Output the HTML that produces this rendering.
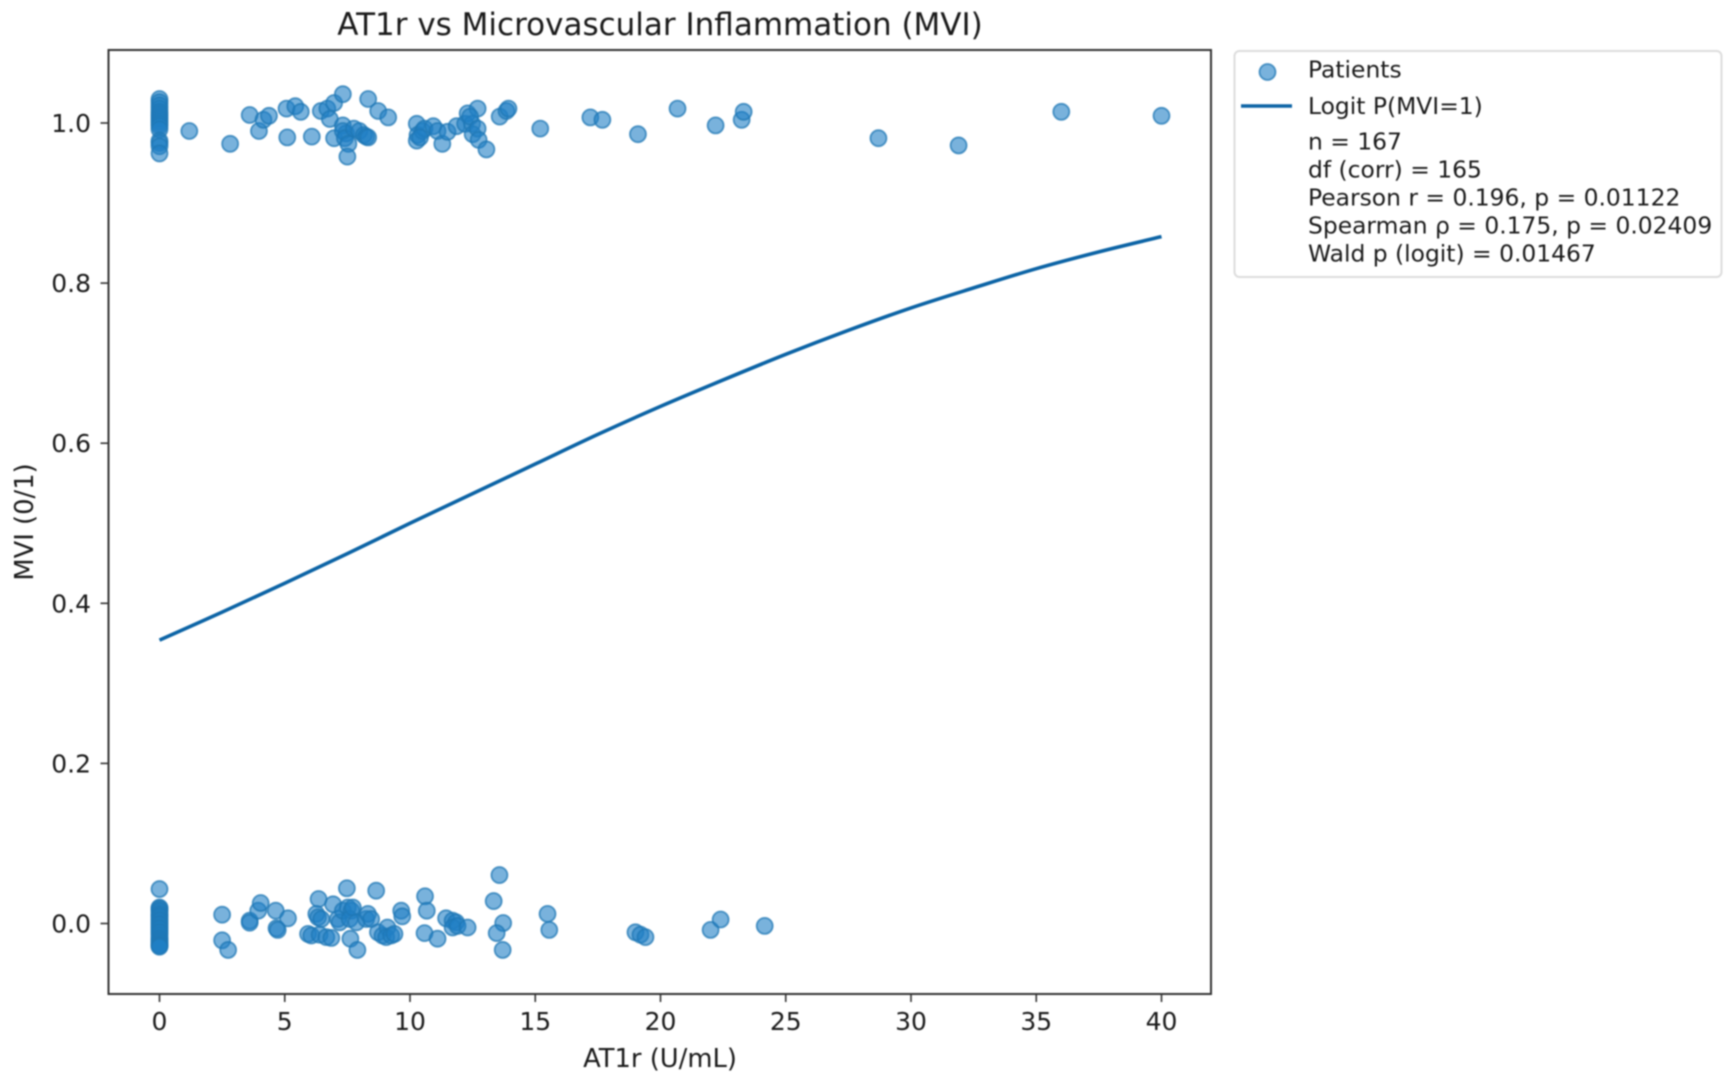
<!DOCTYPE html>
<html lang="en">
<head>
<meta charset="utf-8">
<title>AT1r vs Microvascular Inflammation (MVI)</title>
<style>
html,body{margin:0;padding:0;background:#fff;width:1732px;height:1078px;overflow:hidden}
svg{display:block;filter:blur(0.8px)}
text{font-family:"DejaVu Sans","Liberation Sans",sans-serif;fill:#1a1a1a}
</style>
</head>
<body>
<svg id="chart" xmlns="http://www.w3.org/2000/svg" width="1732" height="1078" viewBox="0 0 1732 1078">
  <rect x="0" y="0" width="1732" height="1078" fill="#fff"/>
  <text x="660" y="35" text-anchor="middle" font-size="31">AT1r vs Microvascular Inflammation (MVI)</text>
  <g id="marks"></g>
  <rect x="108.5" y="50" width="1102.5" height="944" fill="none" stroke="#333" stroke-width="2"/>
  <g id="ticks"></g>
  <text x="660" y="1067" text-anchor="middle" font-size="25.8">AT1r (U/mL)</text>
  <text transform="translate(33,522) rotate(-90)" text-anchor="middle" font-size="25.8">MVI (0/1)</text>
  <g>
    <rect x="1234.5" y="51" width="487" height="226" rx="5" fill="#fff" stroke="#dcdcdc" stroke-width="2"/>
    <circle cx="1267.5" cy="72" r="8" fill="#1f7ec4" fill-opacity="0.6" stroke="#1f77b4" stroke-opacity="0.75" stroke-width="1.8"/>
    <text x="1308" y="77.5" font-size="23.4">Patients</text>
    <line x1="1241" y1="106" x2="1292" y2="106" stroke="#0b63a5" stroke-width="3.6"/>
    <text x="1308" y="114" font-size="23.4">Logit P(MVI=1)</text>
    <text x="1308" y="149.5" font-size="23.4">n = 167</text>
    <text x="1308" y="177.5" font-size="23.4">df (corr) = 165</text>
    <text x="1308" y="205.5" font-size="23.4">Pearson r = 0.196, p = 0.01122</text>
    <text x="1308" y="233.5" font-size="23.4">Spearman ρ = 0.175, p = 0.02409</text>
    <text x="1308" y="261.5" font-size="23.4">Wald p (logit) = 0.01467</text>
  </g>
</svg>
<script>
const xTicks = [0, 5, 10, 15, 20, 25, 30, 35, 40];
const yTicks = [0.0, 0.2, 0.4, 0.6, 0.8, 1.0];

const positiveAt1r = [0,0,0,0,0,0,0,0,0,0,0,0,0,0,0,0,
  1.19,2.82,3.6,3.97,4.15,4.37,5.1,5.07,5.42,5.64,6.08,6.44,6.7,6.8,6.97,6.97,
  7.32,7.32,7.45,7.32,7.4,7.54,7.5,7.76,7.98,8.16,8.25,8.33,8.33,8.73,9.13,
  10.27,10.3,10.27,10.5,10.58,10.4,10.93,11.1,11.29,11.5,11.86,12.2,12.3,12.48,12.7,12.4,
  12.5,12.7,12.74,13.05,13.58,13.85,13.93,15.2,17.2,17.68,19.1,20.68,22.2,23.24,23.32,
  28.7,31.9,36,40];
const positiveMvi = [1.03,1.026,1.022,1.018,1.014,1.011,1.008,1.005,1.002,0.999,0.996,0.992,0.978,0.975,0.971,0.962,
  0.99,0.974,1.01,0.99,1.004,1.009,0.982,1.018,1.021,1.014,0.983,1.015,1.018,1.005,1.025,0.981,
  1.036,0.997,0.987,0.99,0.981,0.974,0.958,0.993,0.99,0.985,0.983,0.982,1.03,1.015,1.007,
  0.999,0.985,0.978,0.99,0.993,0.982,0.996,0.99,0.974,0.989,0.996,0.999,1.012,0.999,1.018,1.008,
  0.986,0.993,0.979,0.967,1.008,1.015,1.018,0.993,1.007,1.004,0.986,1.018,0.997,1.004,1.014,
  0.981,0.972,1.014,1.009];

const negativeAt1r = [0,0,0,0,0,0,0,0,0,0,0,0,0,0,0,0,0,0,0,0,0,0,0,0,0,
  2.5,2.5,2.74,3.6,3.6,3.94,4.04,4.64,4.67,4.72,5.13,5.93,6.06,6.35,6.26,6.33,6.46,6.39,6.66,6.86,6.93,
  7.12,7.19,7.32,7.48,7.52,7.66,7.59,7.72,7.62,7.9,7.86,8.25,8.32,8.45,8.65,8.72,8.9,9.1,9.05,9.25,9.38,9.65,9.69,
  10.6,10.67,10.58,11.1,11.44,11.7,11.84,11.7,11.9,12.3,13.57,13.34,13.72,13.46,13.7,15.49,15.56,
  19.0,19.2,19.4,22.0,22.4,24.16];
const negativeMvi = [0.043,0.02,0.019,0.017,0.015,0.012,0.01,0.008,0.005,0.003,0,-0.002,-0.005,-0.007,-0.01,-0.012,-0.015,-0.018,-0.02,-0.022,-0.024,-0.026,-0.027,-0.028,-0.029,
  0.011,-0.021,-0.033,0.0035,0.001,0.016,0.0256,0.016,-0.006,-0.008,0.0065,-0.013,-0.015,0.0306,0.012,0.0077,0.0056,-0.014,-0.017,-0.018,0.024,
  0.0056,0.0015,0.016,0.044,0.02,0.016,0.0056,0.02,-0.019,-0.033,0.0015,0.0056,0.012,0.0056,0.041,-0.011,-0.015,-0.005,-0.017,-0.015,-0.013,0.016,0.009,
  0.034,0.016,-0.012,-0.019,0.0065,0.0035,0.0015,-0.005,-0.003,-0.005,0.0605,0.028,0.0006,-0.012,-0.033,0.012,-0.008,
  -0.011,-0.014,-0.017,-0.008,0.005,-0.003];

const curveAt1r = [0,2.5,5,7.5,10,12.5,15,17.5,20,22.5,25,27.5,30,32.5,35,37.5,40];
const curveProbability = [0.354,0.389,0.425,0.462,0.5,0.537,0.574,0.611,0.646,0.679,0.711,0.741,0.769,0.794,0.818,0.839,0.858];

const SVG_NS = 'http://www.w3.org/2000/svg';
function xScale(v){ return 159.5 + v * 25.05; }
function yScale(v){ return 923.5 - v * 800.5; }

const marks = document.getElementById('marks');
const ticks = document.getElementById('ticks');

function drawPoint(xv, yv){
  const c = document.createElementNS(SVG_NS, 'circle');
  
  
  c.setAttribute('cx', xScale(xv));
  c.setAttribute('cy', yScale(yv));
  c.setAttribute('r', 8);
  c.setAttribute('fill', '#1f7ec4');
  c.setAttribute('fill-opacity', '0.6');
  c.setAttribute('stroke', '#1f77b4');
  c.setAttribute('stroke-opacity', '0.75');
  c.setAttribute('stroke-width', '1.8');
  marks.appendChild(c);
}
positiveAt1r.forEach(function(v, i){ drawPoint(v, positiveMvi[i]); });
negativeAt1r.forEach(function(v, i){ drawPoint(v, negativeMvi[i]); });

function smoothPath(xs, ys){
  const px = xs.map(xScale);
  const py = ys.map(yScale);
  let d = 'M' + px[0] + ' ' + py[0];
  for (let i = 0; i < px.length - 1; i++) {
    const a = Math.max(i - 1, 0);
    const b = Math.min(i + 2, px.length - 1);
    d += ' C' + (px[i] + (px[i + 1] - px[a]) / 6) + ' ' + (py[i] + (py[i + 1] - py[a]) / 6) +
         ' ' + (px[i + 1] - (px[b] - px[i]) / 6) + ' ' + (py[i + 1] - (py[b] - py[i]) / 6) +
         ' ' + px[i + 1] + ' ' + py[i + 1];
  }
  return d;
}
const curve = document.createElementNS(SVG_NS, 'path');


curve.setAttribute('d', smoothPath(curveAt1r, curveProbability));
curve.setAttribute('fill', 'none');
curve.setAttribute('stroke', '#0b63a5');
curve.setAttribute('stroke-width', '3.6');
curve.setAttribute('stroke-linejoin', 'round');
marks.appendChild(curve);

xTicks.forEach(function(v){
  const px = xScale(v);
  const l = document.createElementNS(SVG_NS, 'line');
  
  
  l.setAttribute('x1', px);
  l.setAttribute('x2', px);
  l.setAttribute('y1', 994);
  l.setAttribute('y2', 1002);
  l.setAttribute('stroke', '#333');
  l.setAttribute('stroke-width', '1.6');
  ticks.appendChild(l);
  const t = document.createElementNS(SVG_NS, 'text');
  
  
  t.setAttribute('x', px);
  t.setAttribute('y', 1030);
  t.setAttribute('text-anchor', 'middle');
  t.setAttribute('font-size', '25');
  t.textContent = String(v);
  ticks.appendChild(t);
});
yTicks.forEach(function(v){
  const py = yScale(v);
  const l = document.createElementNS(SVG_NS, 'line');
  
  
  l.setAttribute('x1', 100.5);
  l.setAttribute('x2', 108.5);
  l.setAttribute('y1', py);
  l.setAttribute('y2', py);
  l.setAttribute('stroke', '#333');
  l.setAttribute('stroke-width', '1.6');
  ticks.appendChild(l);
  const t = document.createElementNS(SVG_NS, 'text');
  
  
  t.setAttribute('x', 91);
  t.setAttribute('y', py + 9);
  t.setAttribute('text-anchor', 'end');
  t.setAttribute('font-size', '25');
  t.textContent = v.toFixed(1);
  ticks.appendChild(t);
});
</script>
</body>
</html>
